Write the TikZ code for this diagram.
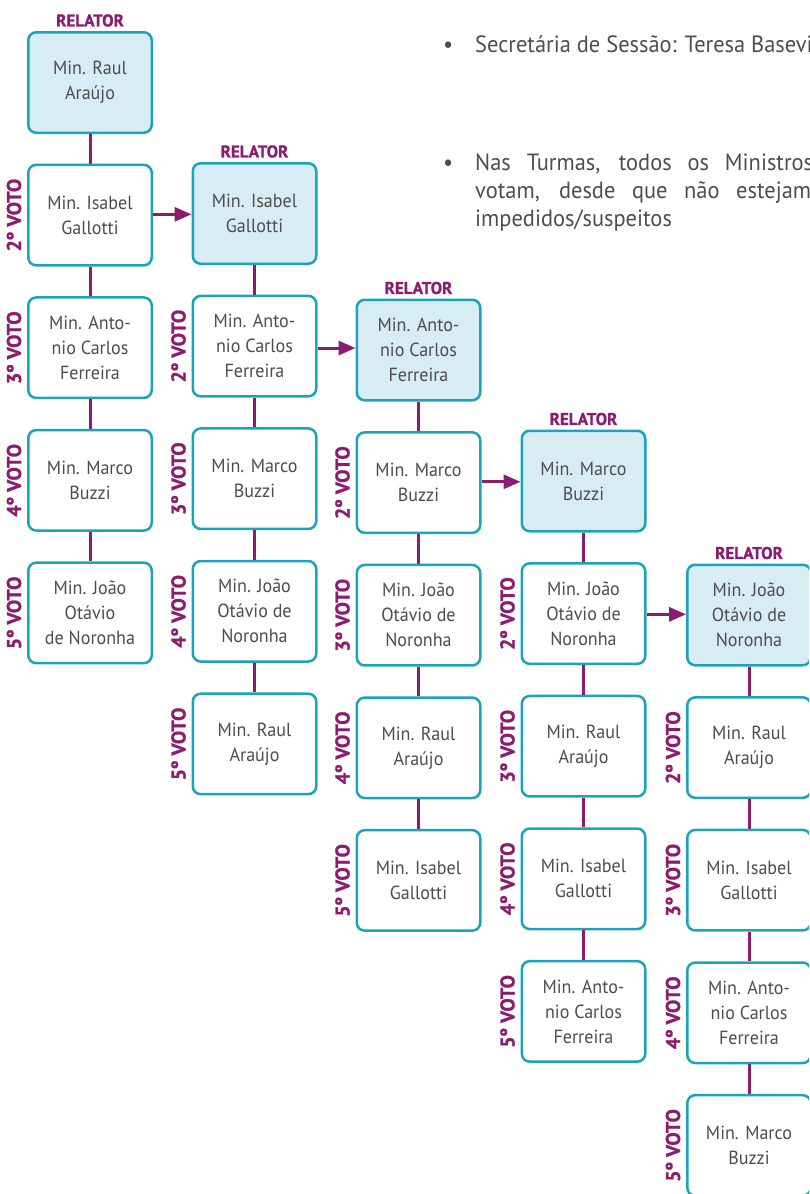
\documentclass[tikz,border=0pt]{standalone}
\usepackage{fontspec}
\setmainfont{PT Sans}
\newfontfamily\boxfont[FakeStretch=0.95]{PT Sans}
\newfontfamily\bulfont[FakeStretch=0.955]{PT Sans}
\newfontfamily\heavyfont[FakeBold=1]{PT Sans Bold}
\usetikzlibrary{arrows.meta,calc}
\definecolor{purp}{HTML}{8B1C6F}
\definecolor{teal}{HTML}{1BA3BC}
\definecolor{lblue}{HTML}{D8ECF3}
\definecolor{txt}{HTML}{4D4D4D}
\tikzset{
  box/.style={draw=teal, line width=2.5pt, rounded corners=8pt, fill=white,
    minimum width=123.5pt, minimum height=100.5pt, inner sep=0pt,
    align=center, text=txt, font=\boxfont\fontsize{19}{25}\selectfont},
  relbox/.style={box, fill=lblue},
  rel/.style={text=purp, font=\heavyfont\fontsize{17}{18}\selectfont, inner sep=0pt},
  voto/.style={text=purp, font=\heavyfont\fontsize{20}{21}\selectfont, inner sep=0pt, rotate=90},
  conn/.style={draw=purp, line width=3pt},
  arr/.style={draw=purp, line width=3pt, -{Triangle[length=17pt,width=14pt]}},
  bul/.style={text=txt, font=\bulfont\fontsize{23.5}{28}\selectfont, inner sep=0pt, anchor=base west}
}
\begin{document}
\begin{tikzpicture}[x=1pt,y=-1pt]
\path[use as bounding box] (0,0) rectangle (809,1194);
\clip (0,0) rectangle (809,1194);

% column 1
\node[relbox] (c1b1) at (90,82.5) {Min. Raul\\Araújo};
\node[box] (c1b2) at (90,215.1) {Min. Isabel\\Gallotti};
\node[box] (c1b3) at (90,347.7) {Min. Anto-\\nio Carlos\\Ferreira};
\node[box] (c1b4) at (90,480.3) {Min. Marco\\Buzzi};
\node[box] (c1b5) at (90,612.9) {Min. João\\Otávio\\de Noronha};
% column 2
\node[relbox] (c2b1) at (254.5,213.5) {Min. Isabel\\Gallotti};
\node[box] (c2b2) at (254.5,346.1) {Min. Anto-\\nio Carlos\\Ferreira};
\node[box] (c2b3) at (254.5,478.7) {Min. Marco\\Buzzi};
\node[box] (c2b4) at (254.5,611.3) {Min. João\\Otávio de\\Noronha};
\node[box] (c2b5) at (254.5,743.9) {Min. Raul\\Araújo};
% column 3
\node[relbox] (c3b1) at (418.5,350) {Min. Anto-\\nio Carlos\\Ferreira};
\node[box] (c3b2) at (418.5,482.6) {Min. Marco\\Buzzi};
\node[box] (c3b3) at (418.5,615.2) {Min. João\\Otávio de\\Noronha};
\node[box] (c3b4) at (418.5,747.8) {Min. Raul\\Araújo};
\node[box] (c3b5) at (418.5,880.4) {Min. Isabel\\Gallotti};
% column 4
\node[relbox] (c4b1) at (583.5,481) {Min. Marco\\Buzzi};
\node[box] (c4b2) at (583.5,613.6) {Min. João\\Otávio de\\Noronha};
\node[box] (c4b3) at (583.5,746.2) {Min. Raul\\Araújo};
\node[box] (c4b4) at (583.5,878.8) {Min. Isabel\\Gallotti};
\node[box] (c4b5) at (583.5,1011.4) {Min. Anto-\\nio Carlos\\Ferreira};
% column 5
\node[relbox] (c5b1) at (749,615) {Min. João\\Otávio de\\Noronha};
\node[box] (c5b2) at (749,747.6) {Min. Raul\\Araújo};
\node[box] (c5b3) at (749,880.2) {Min. Isabel\\Gallotti};
\node[box] (c5b4) at (749,1012.8) {Min. Anto-\\nio Carlos\\Ferreira};
\node[box] (c5b5) at (749,1145.4) {Min. Marco\\Buzzi};

% vertical connectors
\foreach \c in {1,...,5}{
  \foreach \a/\b in {1/2,2/3,3/4,4/5}{
    \draw[conn] (c\c b\a.south) -- (c\c b\b.north);
  }
}
% arrows
\foreach \a/\b in {1/2,2/3,3/4,4/5}{
  \coordinate (m\a) at ($(c\a b2.center)!0.5!(c\b b1.center)$);
  \draw[arr] (c\a b2.east |- m\a) -- (c\b b1.west |- m\a);
}

% RELATOR labels
\foreach \c in {1,...,5}{
  \node[rel] (r\c) at ([yshift=10.5pt]c\c b1.north) {RELATOR};
}
% VOTO labels
\foreach \c in {1,...,5}{
  \node[voto] (v\c 2) at ([xshift=-13pt]c\c b2.west) {2º VOTO};
  \node[voto] (v\c 3) at ([xshift=-13pt]c\c b3.west) {3º VOTO};
  \node[voto] (v\c 4) at ([xshift=-13pt]c\c b4.west) {4º VOTO};
  \node[voto] (v\c 5) at ([xshift=-13pt]c\c b5.west) {5º VOTO};
}

% bullet text
\node[bul] (d1) at (443,52) {•};
\node[bul] (t1) at (475,52) {Secretária de Sessão: Teresa Basevi};
\node[bul] (d2) at (443,170) {•};
\node[bul] (t2) at (475,170) {\makebox[338pt][s]{Nas Turmas, todos os Ministros}};
\node[bul] (t3) at (475,198) {\makebox[336pt][s]{votam, desde que não estejam}};
\node[bul] (t4) at (475,226) {impedidos/suspeitos};
\end{tikzpicture}
\end{document}
